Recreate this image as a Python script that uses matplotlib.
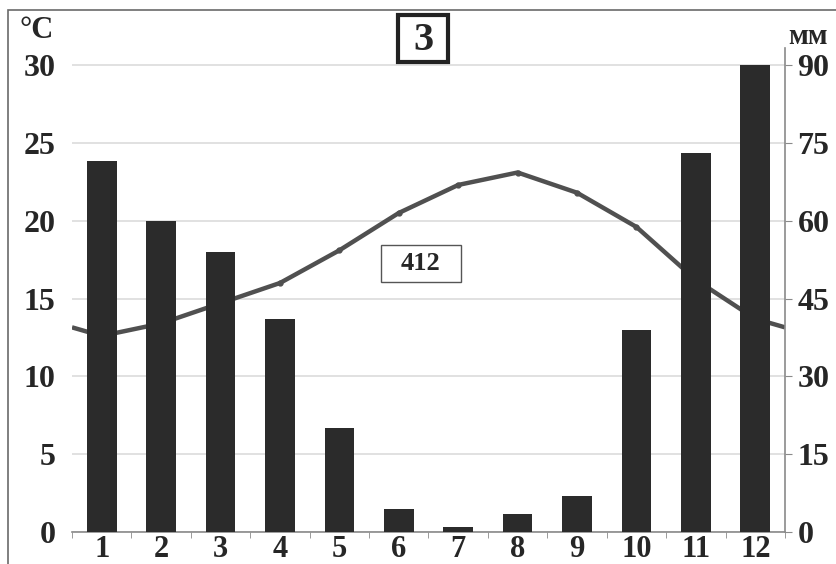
import matplotlib
matplotlib.use("Agg")
import matplotlib.pyplot as plt
from matplotlib.patches import Rectangle
import numpy as np

months = [1, 2, 3, 4, 5, 6, 7, 8, 9, 10, 11, 12]
month_labels = ["1", "2", "3", "4", "5", "6", "7", "8", "9", "10", "11", "12"]
precip_mm = [71.5, 60, 54, 41, 20, 4.5, 1, 3.5, 7, 39, 73, 90]
temp_c = [12.6, 13.4, 14.7, 16.0, 18.1, 20.5, 22.3, 23.1, 21.8, 19.6, 16.2, 13.7]
temp_ticks = [0, 5, 10, 15, 20, 25, 30]
precip_ticks = [0, 15, 30, 45, 60, 75, 90]
title_label = "3"
annual_label = "412"
left_unit = "°C"
right_unit = "мм"

W, H = 837, 564
fig = plt.figure(figsize=(W / 100, H / 100), dpi=100)
fig.patch.set_facecolor("white")

serif = ["Liberation Serif", "DejaVu Serif"]
txt_color = "#262626"
bar_color = "#2b2b2b"
line_color = "#505050"

# axes placement (pixels -> fractions)
x0, x1 = 72, 785
y_bottom, y_top = 532, 48
ax = fig.add_axes([x0 / W, 1 - y_bottom / H, (x1 - x0) / W, (y_bottom - y_top) / H])
ax2 = ax.twinx()

tmax = 31.1
ax.set_xlim(0.5, 12.5)
ax.set_ylim(0, tmax)
ax2.set_ylim(0, tmax * 3)

# gridlines
ax.set_yticks(temp_ticks)
ax.yaxis.grid(True, color="#dcdcdc", linewidth=1.2)
ax.set_axisbelow(True)

# temperature line (wraps around year at the edges), behind bars
edge = (temp_c[0] + temp_c[-1]) / 2
lx = [0.5] + months + [12.5]
ly = [edge] + temp_c + [edge]
ax.plot(lx, ly, color=line_color, linewidth=3.2, zorder=2, solid_capstyle="butt")
ax.plot(months, temp_c, linestyle="none", marker="o", markersize=3.5,
        color=line_color, zorder=2)

# precipitation bars on top
ax2.bar(months, precip_mm, width=0.5, color=bar_color, zorder=3)
ax2.set_yticks(precip_ticks)

# spines
for s in ["top", "left", "right"]:
    ax.spines[s].set_visible(False)
for s in ["top", "left"]:
    ax2.spines[s].set_visible(False)
ax2.spines["bottom"].set_visible(False)
ax.spines["bottom"].set_color("#8a8a8a")
ax.spines["bottom"].set_linewidth(1.2)
ax2.spines["right"].set_color("#8a8a8a")
ax2.spines["right"].set_linewidth(1.2)

# ticks
ax.set_xticks(months)
ax.set_xticklabels(month_labels)
ax.set_xticks(np.arange(0.5, 13, 1), minor=True)
ax.tick_params(axis="x", which="major", length=0, pad=2)
ax.tick_params(axis="x", which="minor", length=4, color="#8a8a8a", direction="out")
ax.tick_params(axis="y", length=0, pad=12)
ax2.tick_params(axis="y", length=5, color="#8a8a8a", direction="out", pad=4)

for lab in ax.get_yticklabels() + ax2.get_yticklabels():
    lab.set_fontfamily(serif)
    lab.set_fontweight("bold")
    lab.set_fontsize(23)
    lab.set_color(txt_color)
for lab in ax.get_xticklabels():
    lab.set_fontfamily(serif)
    lab.set_fontweight("bold")
    lab.set_fontsize(22)
    lab.set_color(txt_color)

# unit labels
fig.text(37 / W, 1 - 31 / H, left_unit, fontfamily=serif, fontweight="bold",
         fontsize=22, color=txt_color, ha="center", va="center")
fig.text(808 / W, 1 - 36 / H, right_unit, fontfamily=serif, fontweight="bold",
         fontsize=21, color=txt_color, ha="center", va="center")

# boxed title
fig.patches.append(Rectangle((398 / W, 1 - 62 / H), 50 / W, 47 / H,
                             transform=fig.transFigure, fc="white",
                             ec="#222222", lw=3.0, zorder=5))
fig.text(423 / W, 1 - 40 / H, title_label, fontfamily=serif, fontweight="bold",
         fontsize=29, color=txt_color, ha="center", va="center", zorder=6)

# boxed annual value
fig.patches.append(Rectangle((381 / W, 1 - 282 / H), 80 / W, 37 / H,
                             transform=fig.transFigure, fc="white",
                             ec="#555555", lw=1.0, zorder=5))
fig.text(421 / W, 1 - 264 / H, annual_label, fontfamily=serif, fontweight="bold",
         fontsize=19, color=txt_color, ha="center", va="center", zorder=6)

# outer frame
fig.patches.append(Rectangle((8 / W, -0.1), 1.2, 1 - 10 / H + 0.1,
                             transform=fig.transFigure, fill=False,
                             ec="#6a6a6a", lw=1.2))

fig.savefig("out.png", dpi=100, facecolor="white")
